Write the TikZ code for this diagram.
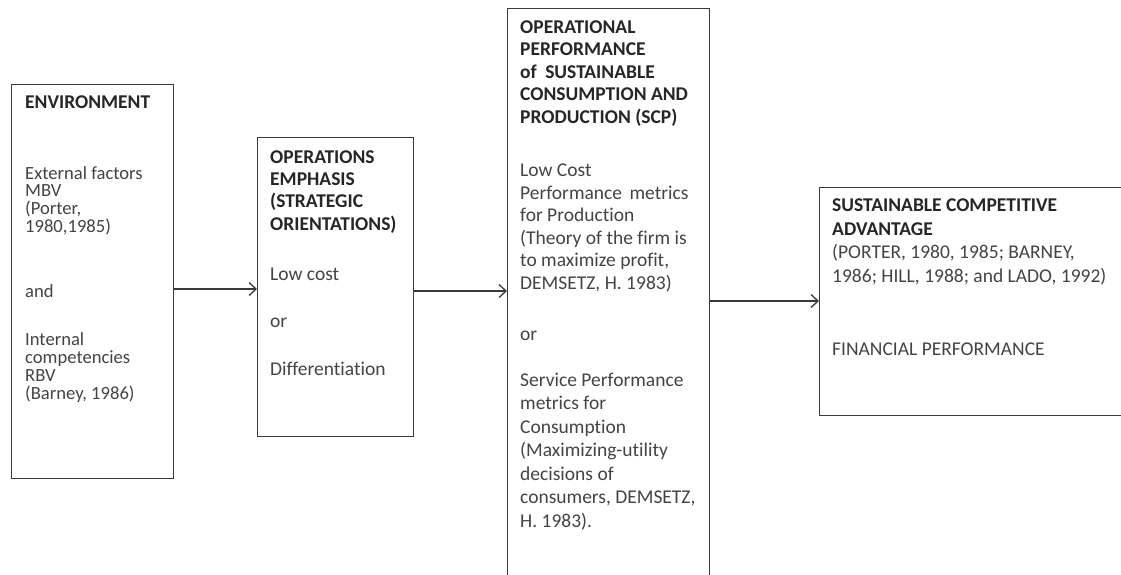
\documentclass[tikz,border=0pt]{standalone}
\usepackage{fontspec}
\setmainfont{Carlito}[Ligatures={NoCommon}]
\usetikzlibrary{arrows.meta}
\definecolor{ink}{HTML}{3A3A3A}
\definecolor{txtc}{HTML}{444444}
\definecolor{boldc}{HTML}{262626}
\begin{document}
\begin{tikzpicture}[x=1pt,y=-1pt,
  box/.style={draw=ink, line width=1.4pt, rectangle, inner sep=0pt, anchor=north west},
  tl/.style={anchor=base west, inner sep=0pt, font=\fontsize{19.5}{23}\selectfont, text=txtc},
  tb/.style={anchor=base west, inner sep=0pt, font=\fontsize{19.5}{23}\selectfont\bfseries, text=boldc},
  ts/.style={tl, font=\fontsize{18.6}{22}\selectfont},
  arr/.style={draw=ink, line width=1.3pt, -{Straight Barb[length=7pt,width=13pt,line width=1.3pt]}}]
\useasboundingbox (0,0) rectangle (1121,574);
\clip (0,0) rectangle (1121,574);
\fill[white] (0,0) rectangle (1121,574);
% boxes
\node[box, minimum width=162pt, minimum height=394pt] (env) at (11,84) {};
\node[box, minimum width=156pt, minimum height=299pt] (ops) at (257,137) {};
\node[box, minimum width=202pt, minimum height=620pt] (scp) at (507,8) {};
\node[box, minimum width=330pt, minimum height=228pt] (sca) at (819,187) {};
% arrows
\draw[arr] (env.east |- 0,289) -- (ops.west |- 0,289);
\draw[arr] (ops.east |- 0,291) -- (scp.west |- 0,291);
\draw[arr] (scp.east |- 0,301) -- (sca.west |- 0,301);
% box 1 text
\node[tb] (envh) at (25,108) {ENVIRONMENT};
\foreach \yy/\mytext [count=\i] in {179/{External factors}, 196.5/{MBV}, 214.5/{(Porter,}, 232.5/{1980,1985)}, 297/{and}, 345/{Internal}, 363/{competencies}, 381/{RBV}, 399/{(Barney, 1986)}}
  \node[ts] (envt\i) at (25,\yy) {\mytext};
% box 2 text
\foreach \yy/\mytext [count=\i] in {163.5/{OPERATIONS}, 185.5/{EMPHASIS}, 207.5/{(STRATEGIC}, 230/{ORIENTATIONS)}}
  \node[tb] (opsh\i) at (270,\yy) {\mytext};
\foreach \yy/\mytext [count=\i] in {280/{Low cost}, 327.5/{or}, 375.5/{Differentiation}}
  \node[tl] (opst\i) at (270,\yy) {\mytext};
% box 3 text
\foreach \yy/\mytext [count=\i] in {33/{OPERATIONAL}, 55.5/{PERFORMANCE}, 78/{of\hspace{4pt} SUSTAINABLE}, 100.5/{CONSUMPTION AND}, 123/{PRODUCTION (SCP)}}
  \node[tb] (scph\i) at (520,\yy) {\mytext};
\foreach \yy/\mytext [count=\i] in {176.5/{Low Cost}, 199/{Performance\hspace{3pt} metrics}, 221.5/{for Production}, 244/{(Theory of the firm is}, 266.5/{to maximize profit,}, 289/{DEMSETZ, H. 1983)}, 340/{or}, 386/{Service Performance}, 409.5/{metrics for}, 433/{Consumption}, 456.5/{(Maximizing-utility}, 480/{decisions of}, 503.5/{consumers, DEMSETZ,}, 527/{H. 1983).}}
  \node[tl] (scpt\i) at (520,\yy) {\mytext};
% box 4 text
\foreach \yy/\mytext [count=\i] in {211/{SUSTAINABLE COMPETITIVE}, 235/{ADVANTAGE}}
  \node[tb] (scah\i) at (832,\yy) {\mytext};
\foreach \yy/\mytext [count=\i] in {258.5/{(PORTER, 1980, 1985; BARNEY,}, 282/{1986; HILL, 1988; and LADO, 1992)}, 355/{FINANCIAL PERFORMANCE}}
  \node[tl] (scat\i) at (832,\yy) {\mytext};
\end{tikzpicture}
\end{document}
